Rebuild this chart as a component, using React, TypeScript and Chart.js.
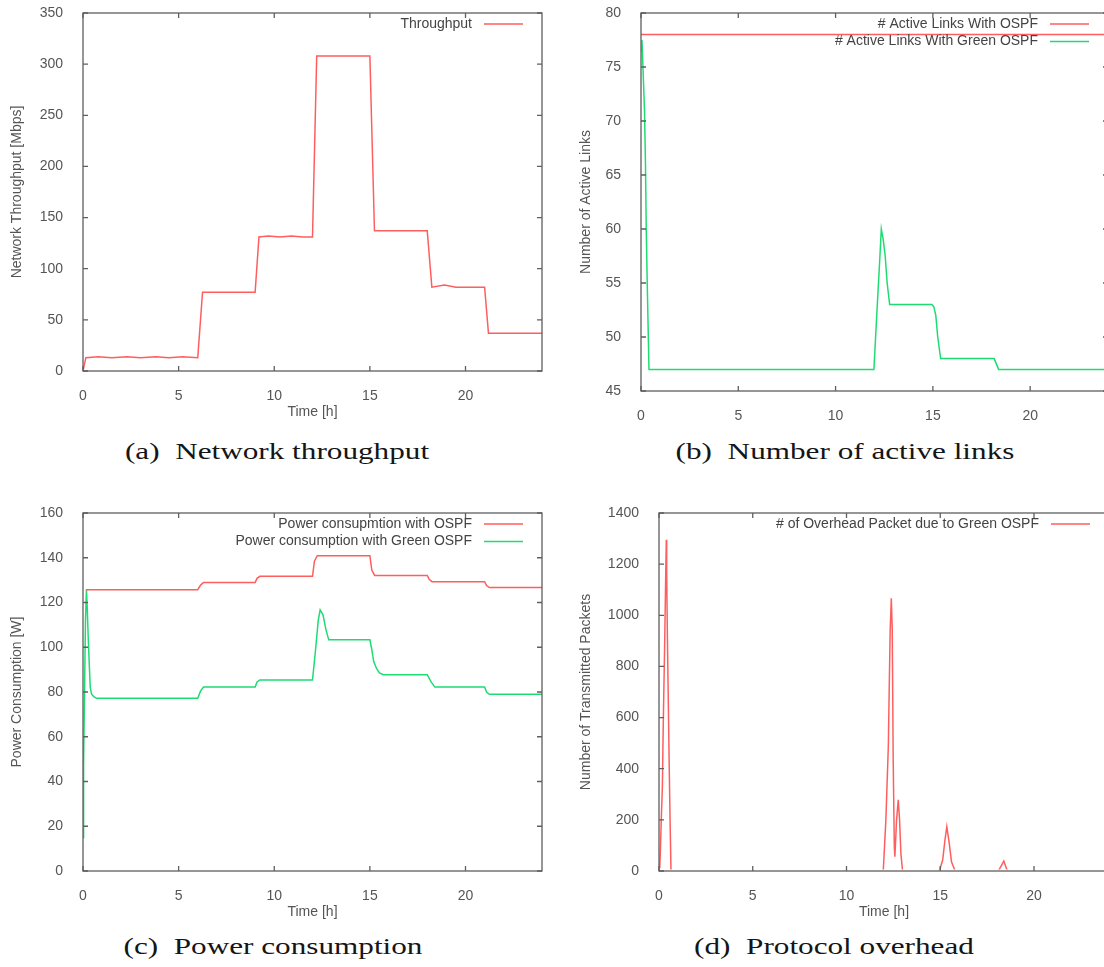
import React, { useEffect, useRef } from 'react';
import { Chart, registerables } from 'chart.js';

Chart.register(...registerables);

// ---------- data ----------
const xTicksHours = [0, 5, 10, 15, 20];

// (a) network throughput
const timeThroughput = [0, 0.15, 0.8, 1.5, 2.3, 3.0, 3.8, 4.5, 5.2, 6.0, 6.25, 9.0, 9.2, 9.7, 10.3, 10.9, 11.5, 12.0, 12.22, 15.0, 15.24, 18.0, 18.24, 18.9, 19.5, 21.0, 21.2, 24];
const throughputMbps = [0, 13, 14, 13, 14, 13, 14, 13, 14, 13, 77, 77, 131, 132, 131, 132, 131, 131, 308, 308, 137, 137, 82, 84, 82, 82, 37, 37];

// (b) active links
const timeLinksOspf = [0, 24];
const linksOspf = [78, 78];
const timeLinksGreen = [0, 0.05, 0.1, 0.18, 0.23, 0.27, 0.32, 0.41, 11.97, 12.1, 12.25, 12.35, 12.45, 12.55, 12.65, 12.78, 14.95, 15.05, 15.15, 15.25, 15.4, 18.15, 18.38, 24];
const linksGreen = [76.5, 77.5, 75, 71, 66, 60, 55, 47, 47, 51.5, 56.5, 60, 59, 57.5, 55, 53, 53, 52.8, 52, 50, 48, 48, 47, 47];

// (c) power consumption
const timePowerOspf = [0.15, 6.0, 6.15, 6.3, 9.0, 9.1, 9.25, 12.0, 12.1, 12.25, 15.0, 15.1, 15.25, 18.0, 18.1, 18.25, 21.0, 21.1, 21.25, 24];
const powerOspf = [125.7, 125.7, 127.8, 128.9, 128.9, 130.8, 131.7, 131.7, 138.5, 140.9, 140.9, 134.5, 132.1, 132.1, 130.4, 129.3, 129.3, 127.6, 126.7, 126.7];
const timePowerGreen = [0, 0.03, 0.08, 0.13, 0.18, 0.22, 0.27, 0.33, 0.38, 0.45, 0.55, 0.7, 6.0, 6.15, 6.3, 9.0, 9.1, 9.25, 12.0, 12.15, 12.3, 12.4, 12.55, 12.7, 12.85, 15.0, 15.1, 15.2, 15.35, 15.5, 15.7, 18.0, 18.2, 18.4, 21.0, 21.1, 21.25, 24];
const powerGreen = [15, 47, 80, 112, 125.7, 118, 105, 92, 82, 79, 78, 77.2, 77.2, 80.5, 82.2, 82.2, 84.5, 85.4, 85.4, 98, 112, 116.7, 114.5, 108, 103.3, 103.3, 99, 93.6, 90.5, 88.5, 87.7, 87.7, 84.5, 82.2, 82.2, 80, 79, 79];

// (d) protocol overhead
const timeOverhead = [0, 0.04, 0.07, 0.12, 0.18, 0.23, 0.3, 0.36, 0.39, 0.41, 0.45, 0.5, 0.55, 0.59, 0.64, 11.96, 12.1, 12.23, 12.28, 12.33, 12.39, 12.44, 12.49, 12.55, 12.58, 12.67, 12.76, 12.83, 12.9, 12.99, 14.93, 15.0, 15.13, 15.25, 15.35, 15.48, 15.6, 15.79, 18.1, 18.39, 18.58, 24];
const overheadPackets = [20, 17, 69, 200, 330, 590, 878, 1165, 1295, 1165, 904, 643, 383, 200, 0, 0, 200, 486, 721, 943, 1067, 943, 434, 95, 56, 200, 278, 200, 69, 0, 0, 12, 43, 121, 173, 108, 36, 0, 0, 39, 0, 0];

// ---------- styling ----------
const FONT = "'Liberation Sans', Arial, Helvetica, sans-serif";
const TEXT = '#555555';
const AXIS = '#5f5f5f';
const RED = '#ff5e5e';
const GREEN = '#1edc74';

type Series = { label: string; color: string; t: number[]; v: number[] };
type PanelCfg = {
  left: number; top: number; width: number; height: number;
  padTop: number; padRight: number; yWidth: number; xHeight: number;
  yMin: number; yMax: number; yStep: number;
  yTitle: string; yTitlePad: number; xTitle: string | null;
  series: Series[];
};

const panels: PanelCfg[] = [
  {
    left: 0, top: 0, width: 560, height: 425, padTop: 13, padRight: 18, yWidth: 83, xHeight: 54,
    yMin: 0, yMax: 350, yStep: 50, yTitle: 'Network Throughput [Mbps]', yTitlePad: 9, xTitle: 'Time [h]',
    series: [{ label: 'Throughput', color: RED, t: timeThroughput, v: throughputMbps }],
  },
  {
    left: 560, top: 0, width: 570, height: 425, padTop: 13, padRight: 22, yWidth: 81, xHeight: 34,
    yMin: 45, yMax: 80, yStep: 5, yTitle: 'Number of Active Links', yTitlePad: 18, xTitle: null,
    series: [
      { label: '# Active Links With OSPF', color: RED, t: timeLinksOspf, v: linksOspf },
      { label: '# Active Links With Green OSPF', color: GREEN, t: timeLinksGreen, v: linksGreen },
    ],
  },
  {
    left: 0, top: 500, width: 560, height: 425, padTop: 13, padRight: 18, yWidth: 83, xHeight: 54,
    yMin: 0, yMax: 160, yStep: 20, yTitle: 'Power Consumption [W]', yTitlePad: 9, xTitle: 'Time [h]',
    series: [
      { label: 'Power consupmtion with OSPF', color: RED, t: timePowerOspf, v: powerOspf },
      { label: 'Power consumption with Green OSPF', color: GREEN, t: timePowerGreen, v: powerGreen },
    ],
  },
  {
    left: 560, top: 500, width: 570, height: 425, padTop: 13, padRight: 21, yWidth: 99, xHeight: 54,
    yMin: 0, yMax: 1400, yStep: 200, yTitle: 'Number of Transmitted Packets', yTitlePad: 18, xTitle: 'Time [h]',
    series: [{ label: '# of Overhead Packet due to Green OSPF', color: RED, t: timeOverhead, v: overheadPackets }],
  },
];

const captions = [
  { text: '(a)\u2002Network throughput', cx: 277, baseline: 458 },
  { text: '(b)\u2002Number of active links', cx: 845, baseline: 458 },
  { text: '(c)\u2002Power consumption', cx: 273, baseline: 953 },
  { text: '(d)\u2002Protocol overhead', cx: 834, baseline: 953 },
];

const gnuBox = {
  id: 'gnuBox',
  afterDatasetsDraw(chart: any) {
    const { ctx, chartArea: a, scales } = chart;
    const xs = scales.x;
    const ys = scales.y;
    ctx.save();
    ctx.strokeStyle = AXIS;
    ctx.lineWidth = 1.3;
    ctx.strokeRect(a.left, a.top, a.right - a.left, a.bottom - a.top);
    ctx.beginPath();
    const L = 5;
    xs.ticks.forEach((t: any) => {
      const p = xs.getPixelForValue(t.value);
      ctx.moveTo(p, a.bottom); ctx.lineTo(p, a.bottom - L);
      ctx.moveTo(p, a.top); ctx.lineTo(p, a.top + L);
    });
    ys.ticks.forEach((t: any) => {
      const p = ys.getPixelForValue(t.value);
      ctx.moveTo(a.left, p); ctx.lineTo(a.left + L, p);
      ctx.moveTo(a.right, p); ctx.lineTo(a.right - L, p);
    });
    ctx.stroke();
    // gnuplot-style key: text then line sample
    ctx.font = `14px ${FONT}`;
    ctx.textBaseline = 'middle';
    ctx.textAlign = 'right';
    chart.data.datasets.forEach((ds: any, i: number) => {
      const y = a.top + 11 + i * 17.4;
      ctx.fillStyle = '#444444';
      ctx.fillText(ds.label, a.right - 70, y);
      ctx.beginPath();
      ctx.strokeStyle = ds.borderColor;
      ctx.lineWidth = 1.5;
      ctx.moveTo(a.right - 58, y);
      ctx.lineTo(a.right - 19, y);
      ctx.stroke();
    });
    ctx.restore();
  },
};

function zeroPad(s: any) {
  s.paddingLeft = 0; s.paddingRight = 0; s.paddingTop = 0; s.paddingBottom = 0;
}

function Panel({ cfg }: { cfg: PanelCfg }) {
  const ref = useRef<HTMLCanvasElement | null>(null);
  useEffect(() => {
    if (!ref.current) return;
    const chart = new Chart(ref.current, {
      type: 'line',
      data: {
        datasets: cfg.series.map((s) => ({
          label: s.label,
          data: s.t.map((x, i) => ({ x, y: s.v[i] })),
          borderColor: s.color,
          backgroundColor: s.color,
          borderWidth: 1.5,
          pointRadius: 0,
          tension: 0,
          fill: false,
          clip: { left: 0, top: 0, right: 0, bottom: -1.6 },
        })),
      },
      options: {
        animation: false,
        responsive: false,
        maintainAspectRatio: false,
        devicePixelRatio: 1,
        layout: { padding: { top: cfg.padTop, right: cfg.padRight, bottom: 0, left: 0 } },
        plugins: { legend: { display: false }, tooltip: { enabled: false } },
        scales: {
          x: {
            type: 'linear',
            min: 0,
            max: 24,
            grid: { display: false },
            border: { display: false },
            afterBuildTicks: (s: any) => {
              s.ticks = xTicksHours.map((value) => ({ value }));
            },
            afterFit: (s: any) => { s.height = cfg.xHeight; zeroPad(s); },
            ticks: {
              padding: 9,
              color: TEXT,
              font: { family: FONT, size: 14 },
              maxRotation: 0,
              callback: (v: any) => String(v),
            },
            title: cfg.xTitle
              ? { display: true, text: cfg.xTitle, color: TEXT, font: { family: FONT, size: 14 }, padding: { top: 0, bottom: 4 } }
              : { display: false },
          },
          y: {
            type: 'linear',
            min: cfg.yMin,
            max: cfg.yMax,
            grid: { display: false },
            border: { display: false },
            afterFit: (s: any) => { s.width = cfg.yWidth; zeroPad(s); },
            ticks: {
              stepSize: cfg.yStep,
              padding: 12,
              color: TEXT,
              font: { family: FONT, size: 14 },
              callback: (v: any) => String(v),
            },
            title: { display: true, text: cfg.yTitle, color: TEXT, font: { family: FONT, size: 14 }, padding: { top: cfg.yTitlePad, bottom: 0 } },
          },
        },
      } as any,
      plugins: [gnuBox],
    });
    return () => chart.destroy();
  }, [cfg]);
  return (
    <canvas
      ref={ref}
      width={cfg.width}
      height={cfg.height}
      style={{ position: 'absolute', left: cfg.left, top: cfg.top, width: cfg.width, height: cfg.height }}
    />
  );
}

export default function App() {
  return (
    <div
      style={{
        position: 'absolute', left: 0, top: 0, width: 1104, height: 967,
        overflow: 'hidden', background: '#ffffff',
      }}
    >
      {panels.map((p, i) => (
        <Panel key={i} cfg={p} />
      ))}
      {captions.map((c, i) => (
        <div
          key={i}
          style={{
            position: 'absolute',
            left: c.cx - 300,
            width: 600,
            top: c.baseline - 19,
            height: 24,
            lineHeight: '24px',
            textAlign: 'center',
            whiteSpace: 'nowrap',
            fontFamily: "'Liberation Serif', 'DejaVu Serif', serif",
            fontSize: 24,
            color: '#151515',
            transform: 'scaleX(1.3)',
            transformOrigin: 'center',
          }}
        >
          {c.text}
        </div>
      ))}
    </div>
  );
}
